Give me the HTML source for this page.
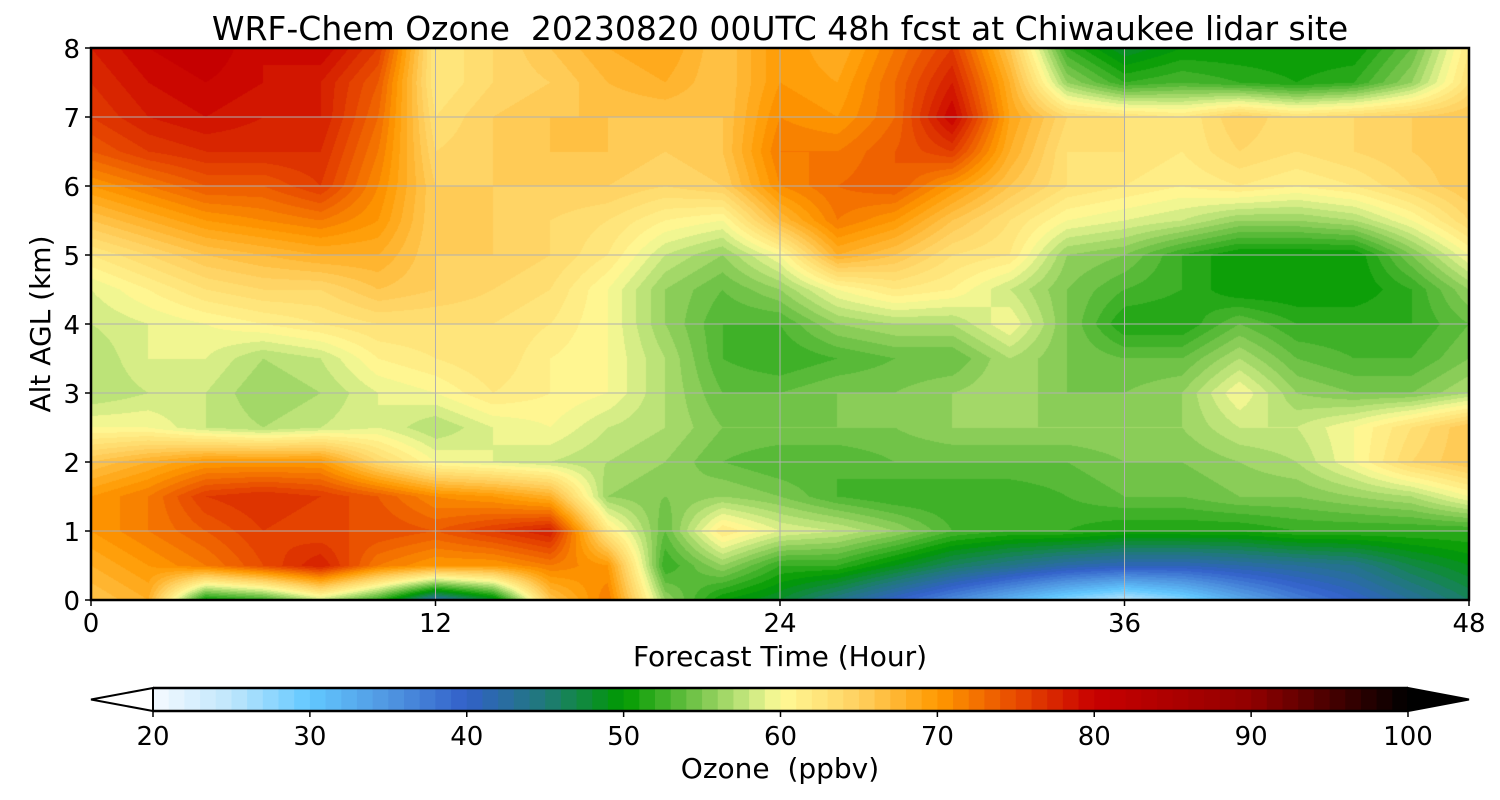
<!DOCTYPE html>
<html><head><meta charset="utf-8">
<style>
html,body{margin:0;padding:0;background:#fff;}
#wrap{position:relative;width:1500px;height:800px;font-family:"DejaVu Sans",sans-serif;}
canvas{position:absolute;left:91px;top:48px;}
svg{position:absolute;left:0;top:0;}
</style></head>
<body>
<div id="wrap">
<canvas id="cv" width="1378" height="552"></canvas>
<svg id="sv" width="1500" height="800"></svg>
</div>
<script>
// ---- data ----
const hours = [0,2,4,6,8,10,12,14,16,18,20,22,24,26,28,30,32,34,36,38,40,42,44,46,48];
const alts = [8,7.5,7,6.5,6,5.5,5,4.5,4,3.5,3,2.5,2,1.5,1,0.5,0];
const ozone = [
[78,80,81,79,80,76,62,64,66,68,69,66,70,68,72,76,66,52,48,50,50,50,50,54,62],
[77,79,80,79,78,74,62,64,65,67,68,66,70,69,73,78,68,56,52,53,52,51,52,56,63],
[76,78,79,78,78,73,63,65,66,66,66,66,71,70,73,80,69,64,63,62,65,63,64,65,66],
[74,76,77,77,77,72,64,65,66,66,65,66,72,72,74,76,68,63,63,62,64,63,64,65,66],
[70,72,74,74,76,71,65,65,65,65,64,65,71,73,74,70,66,63,62,61,62,61,62,64,66],
[66,68,70,71,72,70,65,65,64,63,61,60,67,72,70,66,63,60,59,58,56,56,57,60,64],
[62,64,66,67,68,68,65,65,64,62,58,56,60,68,66,63,62,56,55,52,50,50,50,55,60],
[59,61,63,64,64,66,65,64,63,60,56,54,56,60,62,61,58,55,53,52,50,50,50,52,56],
[58,59,60,61,62,63,63,63,62,60,56,53,53,56,57,57,60,55,51,51,54,52,52,52,54],
[57,59,59,57,58,61,62,63,61,60,57,53,52,53,54,54,57,55,54,54,57,54,53,53,55],
[57,58,58,56,57,59,60,62,61,60,57,54,54,55,55,56,57,55,55,56,60,56,55,55,57],
[60,60,58,57,58,59,57,59,60,58,57,55,55,55,55,56,56,56,56,56,58,58,60,63,66],
[66,68,70,70,70,64,60,59,58,57,56,54,53,53,54,54,54,54,55,55,56,57,60,64,66],
[70,72,76,77,76,74,71,70,68,56,55,56,55,53,52,52,52,53,54,54,55,55,56,57,60],
[70,72,74,76,75,75,74,76,78,62,54,62,59,58,56,53,52,52,51,51,51,52,52,52,52],
[68,70,72,75,78,72,70,70,72,70,52,56,52,52,49,46,44,42,41,41,42,43,44,47,49],
[66,68,50,52,58,52,42,48,66,72,56,50,48,44,40,36,32,28,25,28,33,37,40,43,46]
];
const xTicks = [0,12,24,36,48];
const yTicks = [0,1,2,3,4,5,6,7,8];
const cbTicks = [20,30,40,50,60,70,80,90,100];
// ---- colormap ----
const anchors = [[20,[245,250,255]],[25,[190,230,252]],[30,[98,200,255]],[35,[80,150,225]],[40,[50,96,200]],[45,[31,122,120]],[50,[0,154,0]],[55,[126,200,80]],[58,[200,232,128]],[60,[255,250,150]],[65,[255,208,96]],[70,[255,154,0]],[75,[232,74,0]],[80,[200,0,0]],[90,[145,0,0]],[100,[0,0,0]]];
function cmap(v){
  if(v<=anchors[0][0]) return anchors[0][1];
  for(let i=1;i<anchors.length;i++){
    if(v<=anchors[i][0]){const a=anchors[i-1],b=anchors[i];const t=(v-a[0])/(b[0]-a[0]);
      return a[1].map((c,k)=>Math.round(c+(b[1][k]-c)*t));}
  }
  return anchors[anchors.length-1][1];
}
function levelColor(v){const l=Math.max(20,Math.min(99,Math.floor(v+1e-6)));return cmap(l+0.5);}
// ---- axes ----
const PL=91,PT=48,PW=1378,PH=552;
const xs=h=>PL+h/48*PW;
const ys=a=>PT+(8-a)/8*PH;
const CBL=153,CBR=1408;
const cx=v=>CBL+(v-20)/80*(CBR-CBL);
// ---- field ----
const cv=document.getElementById('cv');const ctx=cv.getContext('2d');
const img=ctx.createImageData(PW,PH);
function sample(h,a){
  const fx=h/2, fy=(8-a)/0.5;
  let i=Math.min(Math.floor(fx),hours.length-2), j=Math.min(Math.floor(fy),alts.length-2);
  const tx=fx-i, ty=fy-j;
  const v00=ozone[j][i],v10=ozone[j][i+1],v01=ozone[j+1][i],v11=ozone[j+1][i+1];
  return v00*(1-tx)*(1-ty)+v10*tx*(1-ty)+v01*(1-tx)*ty+v11*tx*ty;
}
for(let py=0;py<PH;py++){
  const a=8-(py+0.5)/PH*8;
  for(let px=0;px<PW;px++){
    const h=(px+0.5)/PW*48;
    const c=levelColor(sample(h,a));
    const o=(py*PW+px)*4;img.data[o]=c[0];img.data[o+1]=c[1];img.data[o+2]=c[2];img.data[o+3]=255;
  }
}
ctx.putImageData(img,0,0);
// ---- svg ----
const sv=document.getElementById('sv');const NS='http://www.w3.org/2000/svg';
function mk(tag,attrs,parent){const e=document.createElementNS(NS,tag);for(const k in attrs)e.setAttribute(k,attrs[k]);(parent||sv).appendChild(e);return e;}
function txt(s,attrs){const e=mk('text',Object.assign({'font-family':'DejaVu Sans, sans-serif','fill':'#000','style':'white-space:pre'},attrs));e.textContent=s;return e;}
const t=txt('WRF-Chem Ozone  20230820 00UTC 48h fcst at Chiwaukee lidar site',{x:780,y:40,'font-size':33,'text-anchor':'middle'});


xTicks.forEach(h=>{
  const g=mk('line',{x1:xs(h),x2:xs(h),y1:PT,y2:PT+PH,stroke:'#b0b0b0','stroke-width':1});
  
  
  const tk=mk('line',{x1:xs(h),x2:xs(h),y1:PT+PH,y2:PT+PH+6,stroke:'#000','stroke-width':1.5});
  
  
  const l=txt(String(h),{x:xs(h),y:632,'font-size':26,'text-anchor':'middle'});
  
  
});
yTicks.forEach(a=>{
  const g=mk('line',{x1:PL,x2:PL+PW,y1:ys(a),y2:ys(a),stroke:'#b0b0b0','stroke-width':1});
  
  
  const tk=mk('line',{x1:PL-6,x2:PL,y1:ys(a),y2:ys(a),stroke:'#000','stroke-width':1.5});
  
  
  const l=txt(String(a),{x:80,y:ys(a)+10,'font-size':26,'text-anchor':'end'});
  
  
});
const fr=mk('rect',{x:PL,y:PT,width:PW,height:PH,fill:'none',stroke:'#000','stroke-width':2.5});


const xl=txt('Forecast Time (Hour)',{x:780,y:666,'font-size':28,'text-anchor':'middle'});


const yl=txt('Alt AGL (km)',{x:0,y:0,'font-size':28,'text-anchor':'middle',transform:'translate(50,324) rotate(-90)'});


// colorbar
const CT=688,CB=711;
for(let v=20;v<100;v++){
  const c=cmap(v+0.5);
  const r=mk('rect',{x:cx(v),y:CT,width:cx(v+1)-cx(v)+0.6,height:CB-CT,fill:'rgb('+c.join(',')+')'});
  
  
}
const lt=mk('polygon',{points:`${CBL},${CT} ${PL},${(CT+CB)/2} ${CBL},${CB}`,fill:'#fff',stroke:'#000','stroke-width':2});


const rt=mk('polygon',{points:`${CBR},${CT} ${PL+PW},${(CT+CB)/2} ${CBR},${CB}`,fill:'#000',stroke:'#000','stroke-width':2});


const cbf=mk('path',{d:`M${CBL},${CT} H${CBR} M${CBL},${CB} H${CBR}`,stroke:'#000','stroke-width':2.5,fill:'none'});


cbTicks.forEach(v=>{
  const tk=mk('line',{x1:cx(v),x2:cx(v),y1:CB,y2:CB+6,stroke:'#000','stroke-width':1.5});
  
  
  const l=txt(String(v),{x:cx(v),y:745,'font-size':26,'text-anchor':'middle'});
  
  
});
const cl=txt('Ozone  (ppbv)',{x:780,y:778,'font-size':28,'text-anchor':'middle'});


</script>
</body></html>
